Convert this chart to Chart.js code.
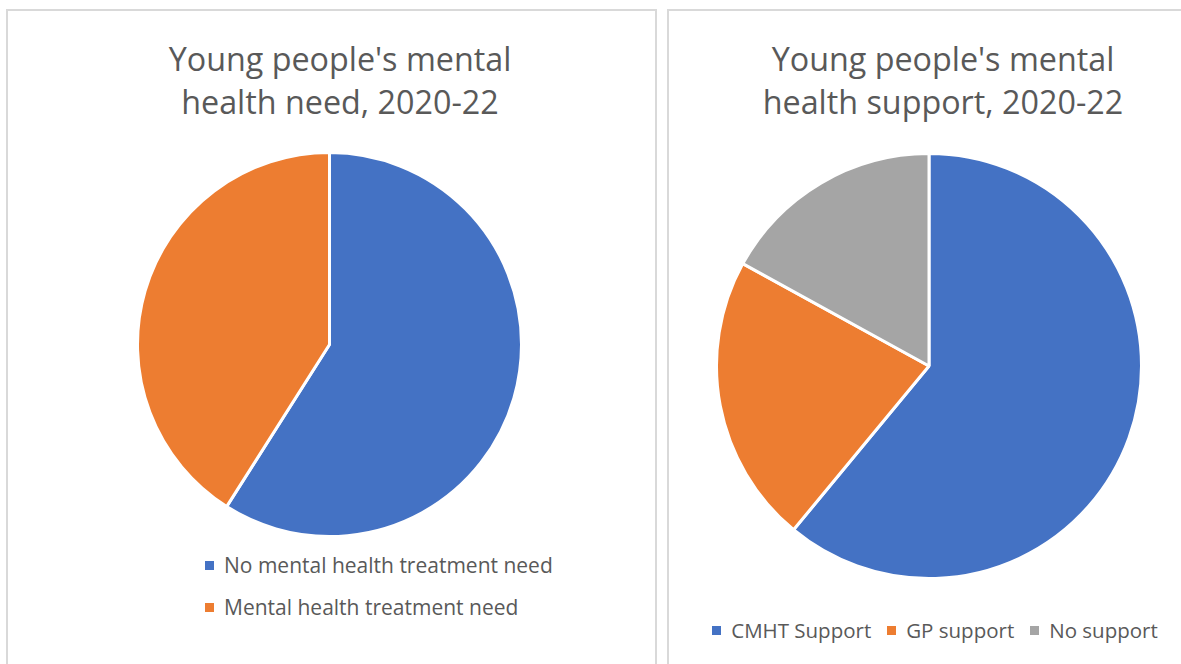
<!DOCTYPE html>
<html>
<head>
<meta charset="utf-8">
<script src="https://cdn.jsdelivr.net/npm/chart.js@4.4.1/dist/chart.umd.min.js"></script>
<style>
  body { margin: 0; background: #fff; width: 1181px; height: 664px; overflow: hidden; position: relative;
         font-family: "Open Sans", sans-serif; color: #595959; }
  .panel { position: absolute; top: 9px; height: 700px; border: 2px solid #d9d9d9; box-sizing: border-box; }
  .title { position: absolute; text-align: center; font-size: 32.3px; line-height: 43px; white-space: nowrap; }
  .pie { position: absolute; }
  .legend { position: absolute; font-size: 21px; white-space: nowrap; }
  .legend .item { display: flex; align-items: center; }
  .legend .box { width: 9px; height: 9px; margin-right: 10px; }
  #needLegend .item { height: 42px; }
  #supportLegend { display: flex; justify-content: center; font-size: 20.5px; }
  #supportLegend .item { margin: 0 8px; }
</style>
</head>
<body>
<div class="panel" style="left:6px;width:651px"></div>
<div class="panel" style="left:667px;width:560px"></div>

<div class="title" id="needTitle" style="left:140px;width:400px;top:37px"></div>
<div class="title" id="supportTitle" style="left:743px;width:400px;top:37px"></div>

<canvas class="pie" id="needPie" width="387" height="387" style="left:136px;top:151px"></canvas>
<canvas class="pie" id="supportPie" width="428" height="428" style="left:715px;top:152px"></canvas>

<div class="legend" id="needLegend" style="left:205px;top:544px"></div>
<div class="legend" id="supportLegend" style="left:685px;width:500px;top:616px"></div>

<script>
const needTitle = ["Young people's mental", 'health need, 2020-22']
const needLabels = ['No mental health treatment need', 'Mental health treatment need']
const needValues = [59, 41]

const supportTitle = ["Young people's mental", 'health support, 2020-22']
const supportLabels = ['CMHT Support', 'GP support', 'No support']
const supportValues = [61, 22, 17]

const sliceColors = ['#4472C4', '#ED7D31', '#A5A5A5']

function fillTitle(id, lines) {
  document.getElementById(id).innerHTML = lines.join('<br>')
}

function fillLegend(id, labels) {
  const el = document.getElementById(id)
  labels.forEach((label, i) => {
    const item = document.createElement('div')
    item.className = 'item'
    item.innerHTML = `<span class="box" style="background:${sliceColors[i]}"></span><span>${label}</span>`
    el.appendChild(item)
  })
}

function drawPie(id, labels, values) {
  return new Chart(document.getElementById(id).getContext('2d'), {
    type: 'pie',
    data: {
      labels,
      datasets: [
        {
          data: values,
          backgroundColor: sliceColors.slice(0, values.length),
          borderColor: '#ffffff',
          borderWidth: 3,
        },
      ],
    },
    options: {
      responsive: false,
      animation: false,
      layout: { padding: 0 },
      plugins: {
        legend: { display: false },
        tooltip: { enabled: false },
      },
    },
  })
}

fillTitle('needTitle', needTitle)
fillTitle('supportTitle', supportTitle)
fillLegend('needLegend', needLabels)
fillLegend('supportLegend', supportLabels)
drawPie('needPie', needLabels, needValues)
drawPie('supportPie', supportLabels, supportValues)
</script>
</body>
</html>
